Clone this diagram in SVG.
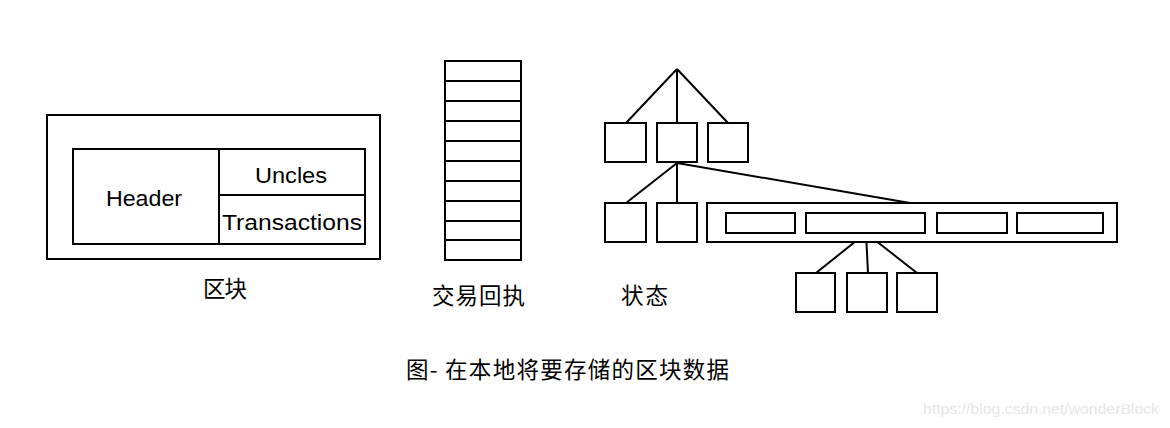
<svg xmlns="http://www.w3.org/2000/svg" width="1170" height="428" viewBox="0 0 1170 428">
<style>
.b{fill:#fff;stroke:#000;stroke-width:2}
.l{fill:none;stroke:#000;stroke-width:2}
.t{font-family:"Liberation Sans","Noto Sans CJK SC",sans-serif;font-size:22px;fill:#000}
.c{font-family:"Noto Sans CJK SC","Liberation Sans",sans-serif;font-size:22.5px;fill:#000}
.w{font-family:"Liberation Sans",sans-serif;font-size:14px;fill:#e6e6e6}
</style>
<rect width="1170" height="428" fill="#fff"/>
<g id="connectors">
<path class="l" d="M677 69L626 123M677 69L677 123M677 69L728 123"/>
<path class="l" d="M677 163L626 203M677 163L677 203M677 163L910 203"/>
<path class="l" d="M866 233L816 273M866 233L868 273M866 233L917 273"/>
</g>
<g id="block">
<rect class="b" x="47" y="115" width="333" height="144"/>
<rect class="b" x="73" y="149" width="292" height="95"/>
<path class="l" d="M219 149V244M219 195H365"/>
<text class="t" x="144" y="206" text-anchor="middle" textLength="76" lengthAdjust="spacingAndGlyphs">Header</text>
<text class="t" x="291" y="183" text-anchor="middle" textLength="72" lengthAdjust="spacingAndGlyphs">Uncles</text>
<text class="t" x="292" y="230" text-anchor="middle" textLength="140" lengthAdjust="spacingAndGlyphs">Transactions</text>
<text class="c" x="203" y="297" textLength="44">区块</text>
</g>
<g id="receipts">
<rect class="b" x="445" y="61" width="76" height="199"/>
<path class="l" d="M445 81H521M445 101H521M445 121H521M445 141H521M445 161H521M445 181H521M445 201H521M445 221H521M445 240H521"/>
<text class="c" x="432" y="304" textLength="93">交易回执</text>
</g>
<g id="state">
<rect class="b" x="605" y="123" width="41" height="39"/>
<rect class="b" x="657" y="123" width="40" height="39"/>
<rect class="b" x="708" y="123" width="40" height="39"/>
<rect class="b" x="605" y="203" width="41" height="39"/>
<rect class="b" x="657" y="203" width="40" height="39"/>
<rect class="b" x="707" y="203" width="410" height="39"/>
<rect class="b" x="726" y="213" width="69" height="20"/>
<rect class="b" x="806" y="213" width="119" height="20"/>
<rect class="b" x="937" y="213" width="70" height="20"/>
<rect class="b" x="1017" y="213" width="86" height="20"/>
<rect class="b" x="796" y="273" width="39" height="39"/>
<rect class="b" x="847" y="273" width="40" height="39"/>
<rect class="b" x="897" y="273" width="40" height="39"/>
<text class="c" x="621" y="304" textLength="47">状态</text>
</g>
<g id="caption">
<text class="c" x="406" y="378" textLength="323">图- 在本地将要存储的区块数据</text>
</g>
<text class="w" x="923" y="414" textLength="236" lengthAdjust="spacingAndGlyphs">https://blog.csdn.net/wonderBlock</text>
</svg>
